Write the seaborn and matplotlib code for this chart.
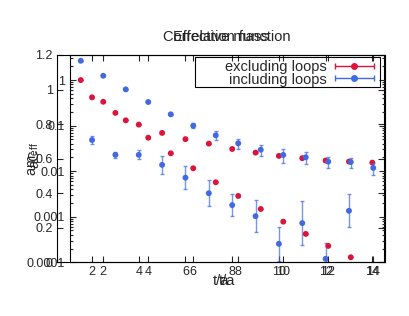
import matplotlib
matplotlib.use("Agg")
import matplotlib.pyplot as plt
import seaborn as sns
import numpy as np
import pandas as pd
from matplotlib.container import ErrorbarContainer
from matplotlib.legend_handler import HandlerErrorbar
from matplotlib.patches import Rectangle
from matplotlib.ticker import FixedLocator, FuncFormatter, LogLocator, NullFormatter

red = "#dc143c"
blue = "#4169e1"

# correlator (log axis)
t_corr_ex = [1, 2, 3, 4, 5, 6, 7, 8, 9, 10, 11, 12, 13]
corr_ex = [1.0, 0.334, 0.1306, 0.0543, 0.0247, 0.01158, 0.00571, 0.00286,
           0.00148, 0.000781, 0.000420, 0.000229, 0.000129]
corr_ex_err = [0.002, 0.0007, 0.0003, 0.0001, 0.00005, 0.00003, 0.00002, 0.00001,
               0.000006, 0.000004, 0.000003, 0.000002, 0.000001]
t_corr_in = [1, 2, 3, 4, 5, 6, 7, 8, 9, 10, 11, 12, 13, 14]
corr_in = [2.65, 1.243, 0.625, 0.330, 0.177, 0.0995, 0.0613, 0.0409, 0.0296,
           0.0227, 0.0202, 0.0162, 0.0159, 0.0118]
corr_in_err = [0.027, 0.012, 0.006, 0.0033, 0.0018, 0.012, 0.0135, 0.0098, 0.0083,
               0.0073, 0.0059, 0.0045, 0.0040, 0.0035]

# effective mass (linear axis)
t_meff_ex = [2, 3, 4, 5, 6, 7, 8, 9, 10, 11, 12, 13, 14]
meff_ex = [0.955, 0.865, 0.797, 0.749, 0.713, 0.687, 0.656, 0.635, 0.616,
           0.603, 0.589, 0.583, 0.577]
meff_ex_err = [0.003, 0.003, 0.003, 0.003, 0.003, 0.003, 0.003, 0.003, 0.003,
               0.003, 0.003, 0.003, 0.003]
t_meff_in = [2, 3, 4, 5, 6, 7, 8, 9, 10, 11, 12, 13]
meff_in = [0.708, 0.622, 0.622, 0.564, 0.490, 0.400, 0.331, 0.267, 0.107,
           0.227, 0.020, 0.298]
meff_in_err = [0.022, 0.019, 0.026, 0.05, 0.068, 0.075, 0.065, 0.094, 0.10,
               0.127, 0.09, 0.095]

xticks = [2, 4, 6, 8, 10, 12, 14]
meff_ticks = [0, 0.2, 0.4, 0.6, 0.8, 1.0, 1.2]
corr_ticks = [1e-4, 1e-3, 1e-2, 1e-1, 1]

sns.set_style("ticks")
plt.rcParams['font.family'] = ['Liberation Sans', 'DejaVu Sans']
plt.rcParams['mathtext.fontset'] = 'custom'
plt.rcParams['mathtext.rm'] = 'Liberation Sans'

W, H = 409, 316
fig = plt.figure(figsize=(W / 100, H / 100), dpi=100)
fig.patch.set_facecolor("white")
axA = fig.add_axes([57 / W, 1 - 262.3 / H, 327 / W, 207.3 / H])
axB = fig.add_axes([69.5 / W, 1 - 262.3 / H, 315 / W, 207.3 / H])
axB.patch.set_alpha(0)


def draw(ax, t, y, err, col):
    ax.errorbar(t, y, yerr=err, fmt='none', ecolor=col, elinewidth=1,
                capsize=1.5, capthick=1, alpha=0.7, zorder=2)
    df = pd.DataFrame({"t": t, "y": y})
    sns.scatterplot(data=df, x="t", y="y", color=col, s=18, edgecolor='none',
                    ax=ax, zorder=3, legend=False)


draw(axA, t_meff_ex, meff_ex, meff_ex_err, red)
draw(axA, t_meff_in, meff_in, meff_in_err, blue)
draw(axB, t_corr_ex, corr_ex, corr_ex_err, red)
draw(axB, t_corr_in, corr_in, corr_in_err, blue)

axB.set_yscale("log")
axA.set_ylim(0, 1.2)
axB.set_ylim(1e-4, 3.55)
for ax in (axA, axB):
    ax.set_xlim(0.5, 14.5)
    ax.set_xticks(xticks)
    ax.xaxis.set_major_formatter(FuncFormatter(lambda v, p: f"{v:g}"))
    ax.tick_params(which='both', direction='in', top=True, right=True,
                   labelsize=9, pad=3, width=0.8)
    ax.tick_params(which='major', length=4)
    ax.tick_params(which='minor', length=2)
    for s in ax.spines.values():
        s.set_linewidth(0.8)
        s.set_color("black")
    ax.set_xlabel("t/a", fontsize=10.5, labelpad=-3)

axA.yaxis.set_major_locator(FixedLocator(meff_ticks))
axA.yaxis.set_major_formatter(FuncFormatter(lambda v, p: f"{v:g}"))
axB.yaxis.set_major_locator(FixedLocator(corr_ticks))
axB.yaxis.set_major_formatter(FuncFormatter(lambda v, p: f"{v:g}"))
axB.yaxis.set_minor_locator(LogLocator(base=10, subs=np.arange(2, 10)))
axB.yaxis.set_minor_formatter(NullFormatter())

axA.set_ylabel("am$_\\mathrm{eff}$", fontsize=10.5)
axB.set_ylabel("aC", fontsize=10.5)
axA.yaxis.set_label_coords((41 - 57) / 327, 0.5)
axB.yaxis.set_label_coords((41 - 69.5) / 315, 0.5)

axA.set_title("Effective mass", fontsize=10.5, pad=10)
axB.set_title("Correlation function", fontsize=10.5, pad=10)

# legend
hEx = axB.errorbar([np.nan], [np.nan], xerr=[np.nan], fmt='o', color=red, ms=4,
                   elinewidth=1, capsize=2, label='excluding loops')
hIn = axB.errorbar([np.nan], [np.nan], xerr=[np.nan], fmt='o', color=blue, ms=4,
                   elinewidth=1, capsize=2, label='including loops')
leg = axB.legend(handles=[hEx, hIn],
                 handler_map={ErrorbarContainer: HandlerErrorbar(xerr_size=1.35)},
                 loc='upper right', bbox_to_anchor=(374 / W, 1 - 60 / H),
                 bbox_transform=fig.transFigure, borderaxespad=0, borderpad=0,
                 frameon=False, markerfirst=False, handlelength=2.7,
                 handletextpad=0.55, labelspacing=-0.1, fontsize=10.5)
fig.add_artist(Rectangle((195 / W, 1 - 87 / H), 185 / W, 30 / H,
                         transform=fig.transFigure, fill=False,
                         edgecolor='black', linewidth=0.8, zorder=5))

fig.savefig("out.png", dpi=100)
